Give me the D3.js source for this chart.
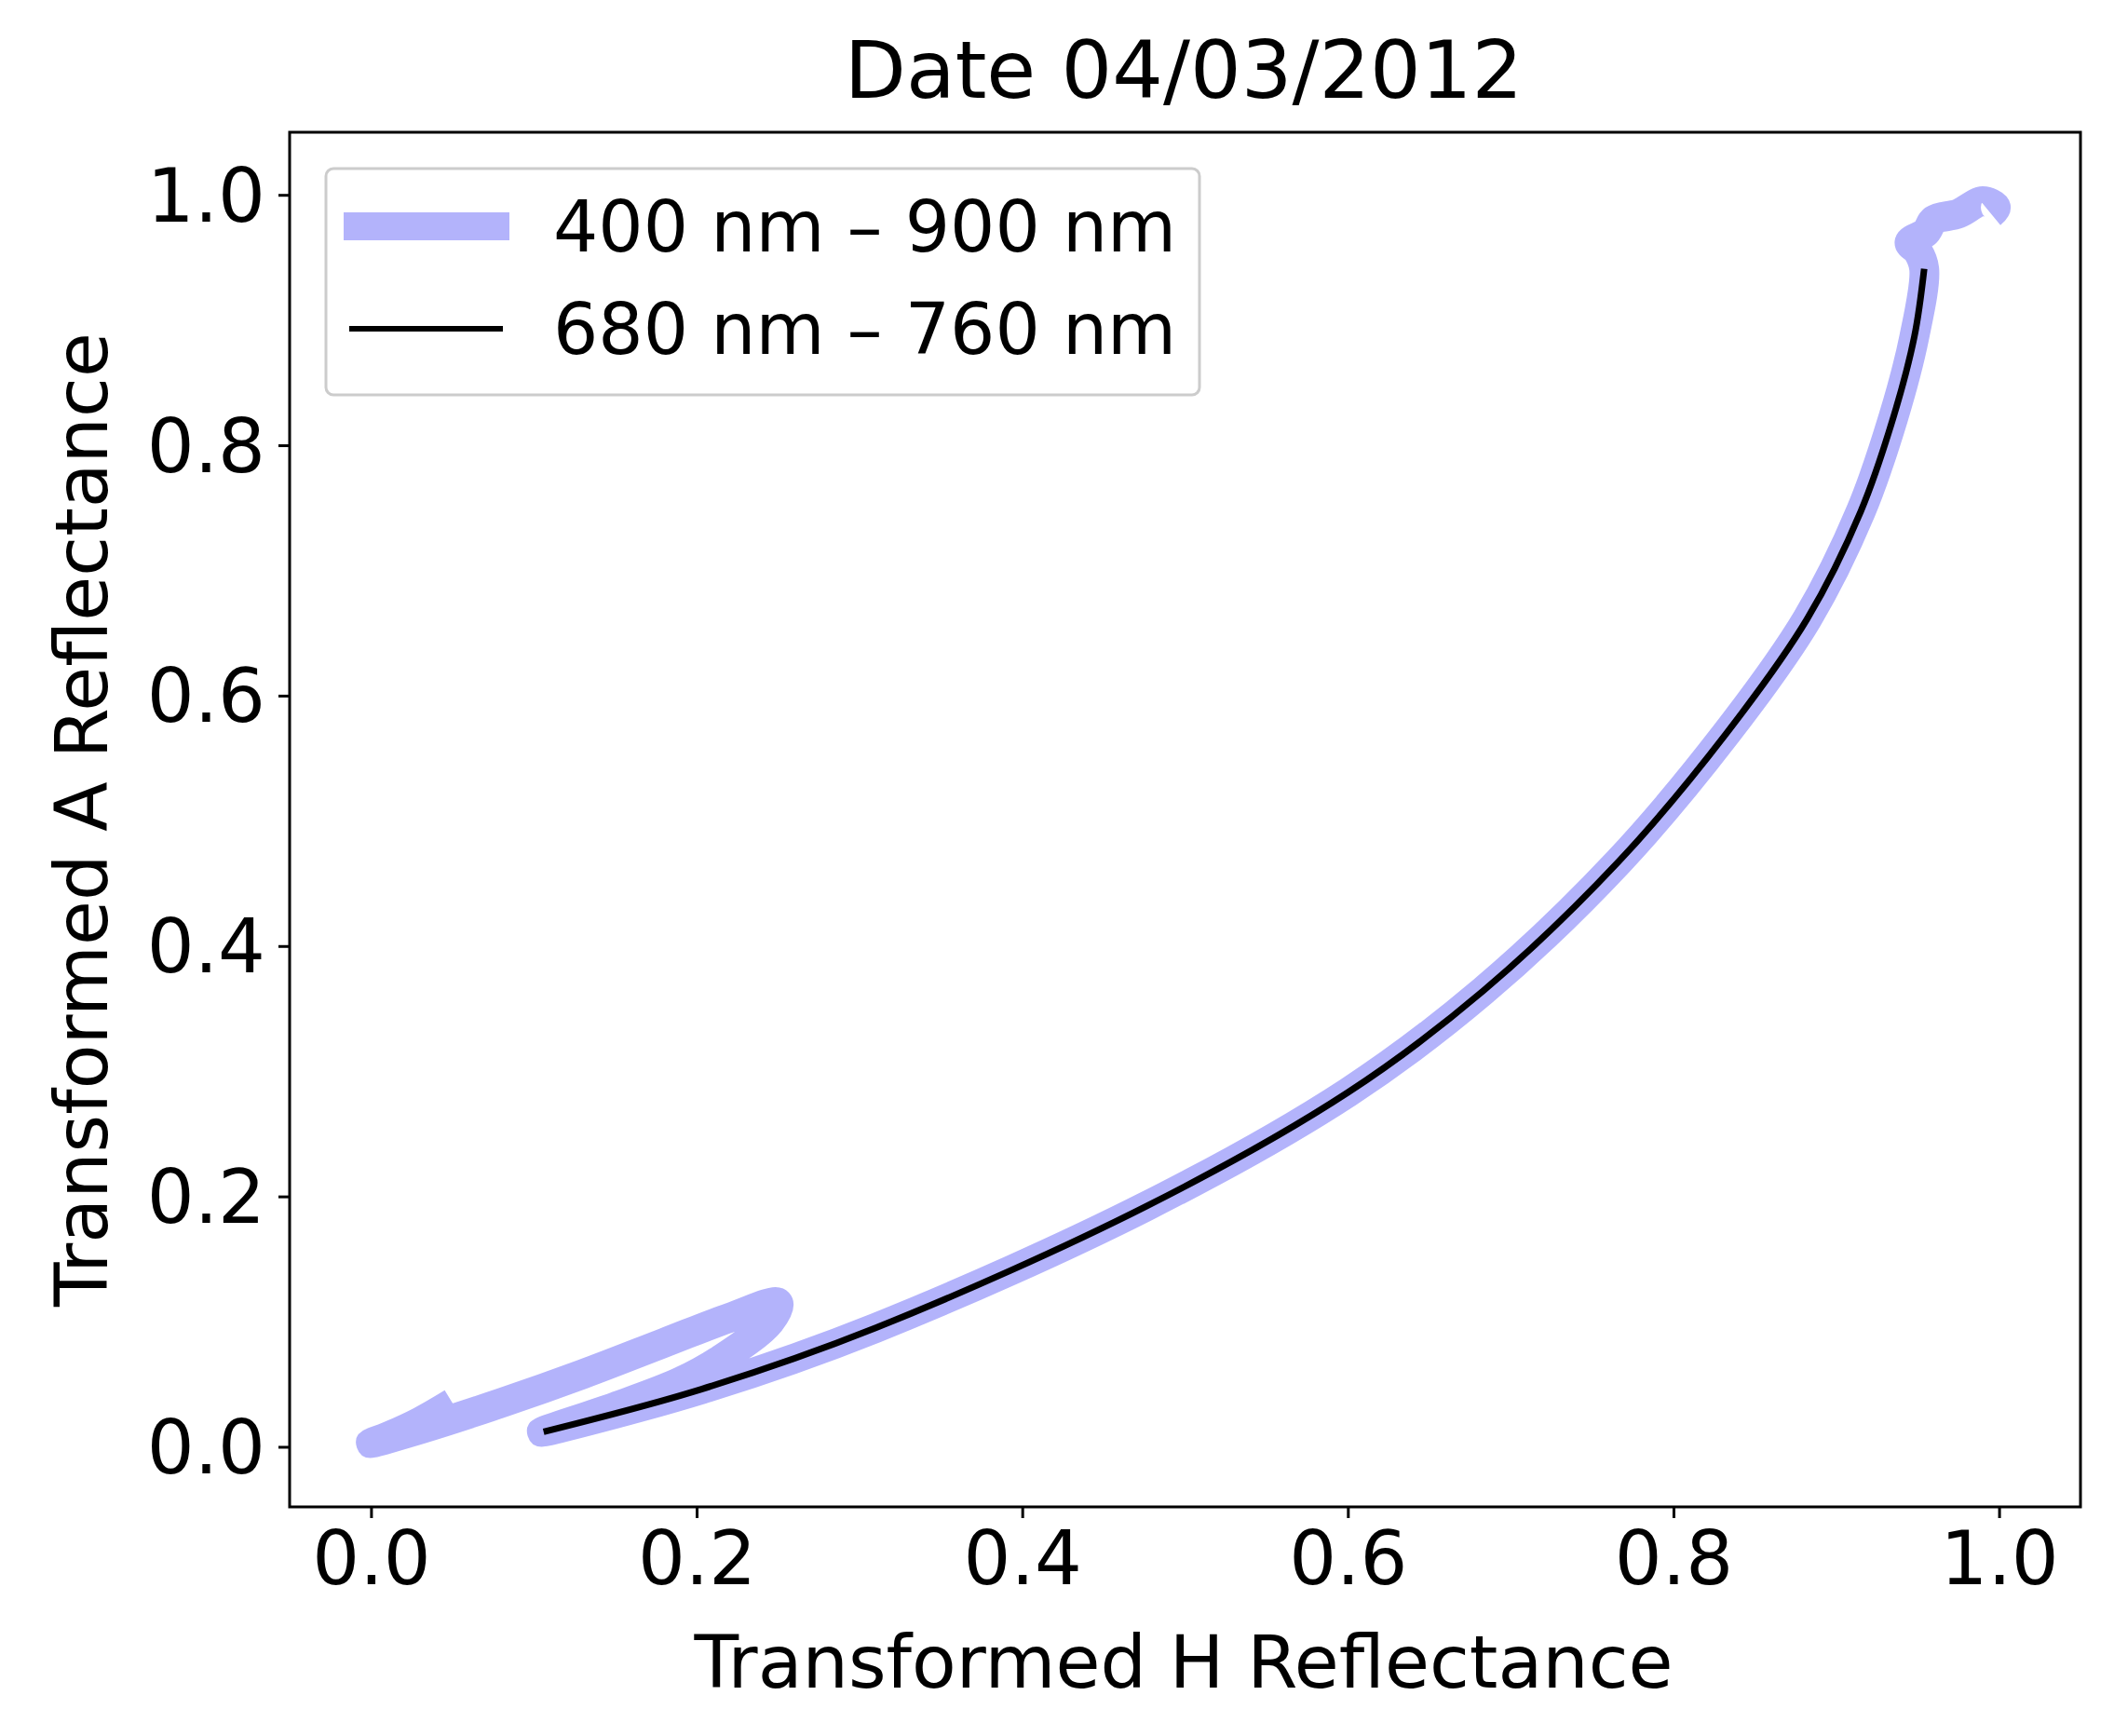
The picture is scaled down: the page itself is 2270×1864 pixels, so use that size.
<!DOCTYPE html>
<html><head><meta charset="utf-8">
<script src="https://cdn.jsdelivr.net/npm/d3@7"></script>
<style>body{margin:0;background:#fff}text{font-family:"DejaVu Sans",sans-serif;fill:#000}</style>
</head><body>
<svg id="c" width="2270" height="1864"></svg>
<script>
const fullX = [0.05,0.03,0.01,0.0,0.03,0.08,0.13,0.18,0.22,0.25,0.245,0.215,0.19,0.15,0.105,0.203,0.31,0.476,0.6,0.683,0.766,0.832,0.882,0.915,0.935,0.948,0.954,0.95,0.945,0.955,0.96,0.975,0.99,0.998,0.995];
const fullY = [0.035,0.02,0.008,0.003,0.014,0.035,0.058,0.083,0.103,0.115,0.1,0.07,0.052,0.032,0.012,0.046,0.095,0.192,0.283,0.364,0.467,0.569,0.661,0.747,0.822,0.887,0.941,0.955,0.962,0.97,0.98,0.985,0.995,0.99,0.985];
const redX = [0.106,0.203,0.31,0.476,0.6,0.683,0.766,0.832,0.882,0.915,0.935,0.948,0.954];
const redY = [0.012,0.046,0.095,0.192,0.283,0.364,0.467,0.569,0.661,0.747,0.822,0.887,0.941];
const ticks = [0,0.2,0.4,0.6,0.8,1.0];
const seriesNames = ["400 nm – 900 nm","680 nm – 760 nm"];

const L=311,R=2234,T=142,B=1618;
const svg=d3.select("#c");
const x=d3.scaleLinear().domain([-0.05,1.05]).range([L,R]);
const y=d3.scaleLinear().domain([-0.048,1.05]).range([B,T]);
const line=d3.line().x(d=>x(d[0])).y(d=>y(d[1])).curve(d3.curveCatmullRom);
svg.append("path").datum(fullX.map((v,i)=>[v,fullY[i]])).attr("d",line)
 .attr("fill","none").attr("stroke","#b3b3fb").attr("stroke-width",32).attr("stroke-linejoin","round").attr("stroke-linecap","butt");
svg.append("path").datum(redX.map((v,i)=>[v,redY[i]])).attr("d",line)
 .attr("fill","none").attr("stroke","#000").attr("stroke-width",7).attr("stroke-linecap","butt");

const gx=svg.append("g").attr("transform",`translate(0,${B})`)
 .call(d3.axisBottom(x).tickValues(ticks).tickFormat(d3.format(".1f")).tickSize(12).tickPadding(14));
const gy=svg.append("g").attr("transform",`translate(${L},0)`)
 .call(d3.axisLeft(y).tickValues(ticks).tickFormat(d3.format(".1f")).tickSize(12).tickPadding(14));
[gx,gy].forEach(g=>{g.select(".domain").remove();g.selectAll("line").attr("stroke","#000").attr("stroke-width",3);
 g.selectAll("text").attr("font-size",80).attr("font-family","DejaVu Sans");});
gy.selectAll("text").attr("dy","0.35em");
svg.append("rect").attr("x",L).attr("y",T).attr("width",R-L).attr("height",B-T).attr("fill","none").attr("stroke","#000").attr("stroke-width",3);

svg.append("text").attr("x",1271).attr("y",105).attr("text-anchor","middle").attr("font-size",86).text("Date 04/03/2012");
svg.append("text").attr("x",1271).attr("y",1812).attr("text-anchor","middle").attr("font-size",78).text("Transformed H Reflectance");
svg.append("text").attr("transform","translate(115,880) rotate(-90)").attr("text-anchor","middle").attr("font-size",78).text("Transformed A Reflectance");

const lg=svg.append("g");
lg.append("rect").attr("x",350).attr("y",181).attr("width",938).attr("height",243).attr("rx",8).attr("fill","#fff").attr("fill-opacity",0.8).attr("stroke","#ccc").attr("stroke-width",3);
const rows=[243,353];
lg.append("line").attr("x1",369).attr("x2",547).attr("y1",rows[0]).attr("y2",rows[0]).attr("stroke","#b3b3fb").attr("stroke-width",30);
lg.append("line").attr("x1",375).attr("x2",540).attr("y1",rows[1]).attr("y2",rows[1]).attr("stroke","#000").attr("stroke-width",6);
seriesNames.forEach((s,i)=>lg.append("text").attr("x",594).attr("y",rows[i]+27).attr("font-size",76).text(s));
</script>
</body></html>
